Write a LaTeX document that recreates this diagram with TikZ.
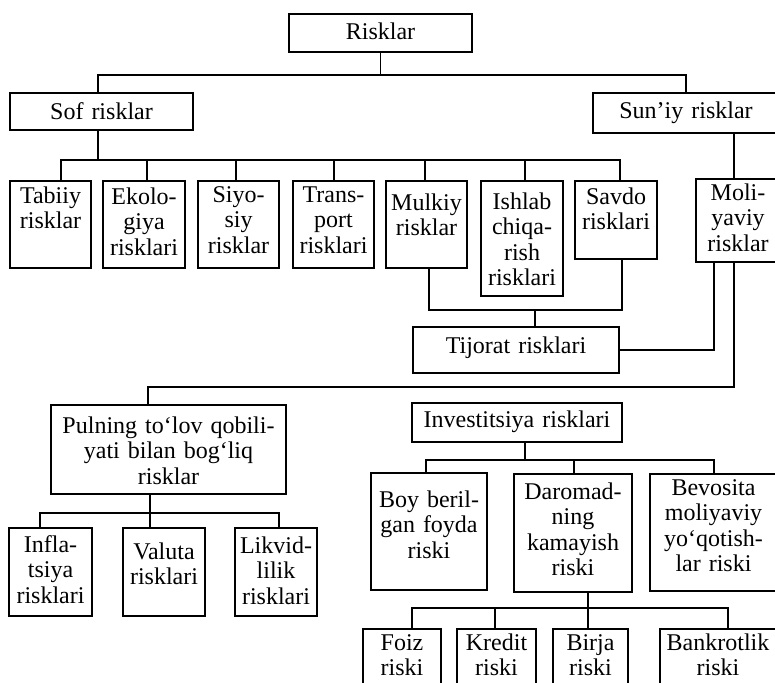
\documentclass[tikz,border=0pt]{standalone}
\usepackage{fontspec}
\setmainfont{Liberation Serif}
\tikzset{
  bx/.style={draw, line width=1.5pt, inner sep=0pt, outer sep=0pt, align=center,
    anchor=north, font=\fontsize{24}{25.5}\selectfont},
  ln/.style={line width=1.5pt}
}
\begin{document}
\begin{tikzpicture}[x=1pt,y=-1pt]
\useasboundingbox (0,0) rectangle (775,682);
\fill[white] (0,0) rectangle (775,682);
\clip (0,0) rectangle (775,682);
% level 0/1
\node[bx,text width=183pt,text height=26pt,text depth=12pt] (risk) at (380.5,14) {Risklar};
\node[bx,text width=183pt,text height=26pt,text depth=11pt] (sof) at (101.5,93) {Sof risklar};
\node[bx,text width=186pt,text height=25pt,text depth=15pt] (sun) at (686,93) {Sun’iy risklar};
% level 2
\node[bx,text width=81pt,text height=22pt,text depth=65pt] (tab) at (50.5,181) {Tabiiy\\risklar};
\node[bx,text width=82pt,text height=23pt,text depth=64pt] (eko) at (144,181) {Ekolo-\\giya\\risklari};
\node[bx,text width=81pt,text height=21pt,text depth=66pt] (siy) at (238.5,181) {Siyo-\\siy\\risklar};
\node[bx,text width=81pt,text height=21pt,text depth=66pt] (tra) at (333.5,181) {Trans-\\port\\risklari};
\node[bx,text width=81pt,text height=29pt,text depth=58pt] (mul) at (426.5,181) {Mulkiy\\risklar};
\node[bx,text width=82pt,text height=28pt,text depth=87pt] (ish) at (522,181) {Ishlab\\chiqa-\\rish\\risklari};
\node[bx,text width=82pt,text height=23pt,text depth=55pt] (sav) at (616,181) {Savdo\\risklari};
\node[bx,text width=84pt,text height=21pt,text depth=62pt] (mol) at (738,179) {Moli-\\yaviy\\risklar};
\node[bx,text width=206pt,text height=26pt,text depth=20pt] (tij) at (516,327) {Tijorat risklari};
% lower left
\node[bx,text width=235pt,text height=28pt,text depth=61pt] (pul) at (168.5,405) {Pulning to‘lov qobili-\\yati bilan bog‘liq\\risklar};
\node[bx,text width=83pt,text height=24pt,text depth=64pt] (inf) at (50.5,528) {Infla-\\tsiya\\risklari};
\node[bx,text width=82pt,text height=31pt,text depth=57pt] (val) at (164,528) {Valuta\\risklari};
\node[bx,text width=82pt,text height=25pt,text depth=63pt] (lik) at (276,528) {Likvid-\\lilik\\risklari};
% lower right
\node[bx,text width=210pt,text height=24pt,text depth=15pt] (inv) at (517,403) {Investitsiya risklari};
\node[bx,text width=116pt,text height=34pt,text depth=83pt] (boy) at (429,473) {Boy beril-\\gan foyda\\riski};
\node[bx,text width=118pt,text height=25pt,text depth=93pt] (dar) at (573,474) {Daromad-\\ning\\kamayish\\riski};
\node[bx,text width=127pt,text height=21pt,text depth=96pt] (bev) at (713.5,474) {Bevosita\\moliyaviy\\yo‘qotish-\\lar riski};
\node[bx,text width=78pt,text height=21pt,text depth=50pt] (foi) at (402,629) {Foiz\\riski};
\node[bx,text width=79pt,text height=21pt,text depth=50pt] (kre) at (496.5,629) {Kredit\\riski};
\node[bx,text width=75pt,text height=21pt,text depth=50pt] (bir) at (590.5,629) {Birja\\riski};
\node[bx,text width=116pt,text height=21pt,text depth=50pt] (ban) at (718,629) {Bankrotlik\\riski};
% connectors
\draw[ln] (risk.south) -- ++(0,23) coordinate (j1);
\draw[ln] ([xshift=-3.5pt]sof.north) |- (j1) -| (sun.north);
\draw[ln] ([xshift=-3.5pt]sof.south) -- ++(0,30) coordinate (j2);
\draw[ln] ([xshift=10.5pt]tab.north) |- (j2) -| ([xshift=4pt]sav.north);
\draw[ln] ([xshift=3pt]eko.north) -- ++(0,-21);
\draw[ln] ([xshift=-2.5pt]siy.north) -- ++(0,-21);
\draw[ln] ([xshift=0.5pt]tra.north) -- ++(0,-21);
\draw[ln] ([xshift=-1.5pt]mul.north) -- ++(0,-21);
\draw[ln] ([xshift=3pt]ish.north) -- ++(0,-21);
\draw[ln] ([xshift=-4pt]mol.north) -- ([xshift=-4pt]mol.north |- sun.south);
\draw[ln] ([xshift=2.5pt]mul.south) -- ++(0,42) -| ([xshift=6pt]sav.south);
\draw[ln] ([xshift=19pt]tij.north) -- ++(0,-17);
\draw[ln] (tij.east) -| ([xshift=-24pt]mol.south);
\draw[ln] ([xshift=-4pt]mol.south) -- ++(0,125) -| ([xshift=-20.5pt]pul.north);
\draw[ln] ([xshift=-18.5pt]pul.south) -- ++(0,19) coordinate (j7);
\draw[ln] ([xshift=-10.5pt]inf.north) |- (j7) -| ([xshift=3pt]lik.north);
\draw[ln] ([xshift=-14pt]val.north) -- (j7);
\draw[ln] ([xshift=8pt]inv.south) -- ++(0,18) coordinate (j8);
\draw[ln] ([xshift=-3pt]boy.north) |- (j8) -| ([xshift=0.5pt]bev.north);
\draw[ln] ([xshift=1pt]dar.north) -- ++(0,-14);
\draw[ln] ([xshift=15pt]dar.south) -- ++(0,16) coordinate (j9);
\draw[ln] ([xshift=10pt]foi.north) |- (j9) -| ([xshift=10pt]ban.north);
\draw[ln] ([xshift=-1.5pt]kre.north) -- ++(0,-21);
\draw[ln] ([xshift=-2.5pt]bir.north) -- (j9);
\end{tikzpicture}
\end{document}
